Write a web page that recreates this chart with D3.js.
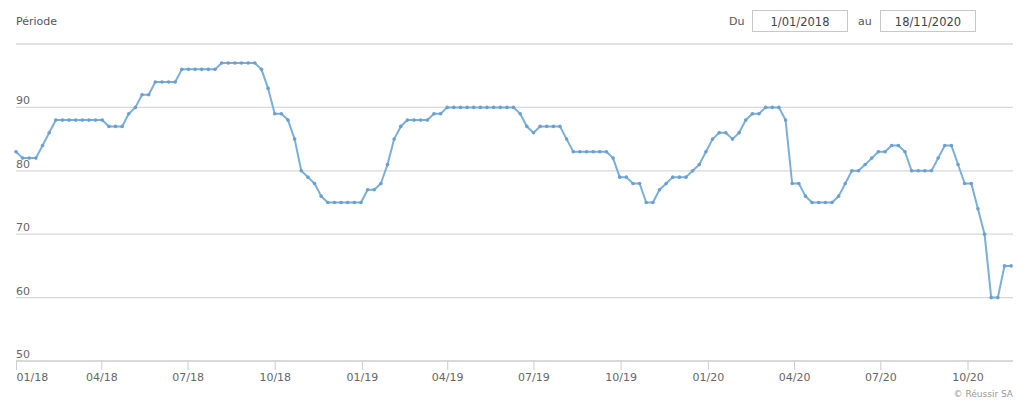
<!DOCTYPE html>
<html>
<head>
<meta charset="utf-8">
<script src="https://cdn.jsdelivr.net/npm/d3@7"></script>
<style>
  body { margin: 0; background: #fff; }
  svg { display: block; font-family: "DejaVu Sans", Verdana, sans-serif; }
</style>
</head>
<body>
<div class="d3-elem"></div>
<script>
// weekly prices, one per monday starting 01/01/2018
const startDate = "2018-01-01";
const endDate = "2020-11-18";
const prices = [
  83, 82, 82, 82, 84, 86, 88, 88, 88, 88, 88, 88, 88, 88, 87, 87, 87, 89, 90, 92,
  92, 94, 94, 94, 94, 96, 96, 96, 96, 96, 96, 97, 97, 97, 97, 97, 97, 96, 93, 89,
  89, 88, 85, 80, 79, 78, 76, 75, 75, 75, 75, 75, 75, 77, 77, 78, 81, 85, 87, 88,
  88, 88, 88, 89, 89, 90, 90, 90, 90, 90, 90, 90, 90, 90, 90, 90, 89, 87, 86, 87,
  87, 87, 87, 85, 83, 83, 83, 83, 83, 83, 82, 79, 79, 78, 78, 75, 75, 77, 78, 79,
  79, 79, 80, 81, 83, 85, 86, 86, 85, 86, 88, 89, 89, 90, 90, 90, 88, 78, 78, 76,
  75, 75, 75, 75, 76, 78, 80, 80, 81, 82, 83, 83, 84, 84, 83, 80, 80, 80, 80, 82,
  84, 84, 81, 78, 78, 74, 70, 60, 60, 65, 65
];
const yTicks = [50, 60, 70, 80, 90, 100];
const yLabels = ["50", "60", "70", "80", "90"];
const periodFrom = "1/01/2018";
const periodTo = "18/11/2020";

const w = 1024, h = 401;
const parse = d3.timeParse("%Y-%m-%d");
const t0 = parse(startDate);
const data = prices.map((v, i) => ({ date: d3.timeWeek.offset(t0, i), value: v }));

const x = d3.scaleTime()
  .domain([t0, parse(endDate)])
  .range([16, 1013]);
const y = d3.scaleLinear()
  .domain([50, 100])
  .range([361, 44]);

const svg = d3.select(".d3-elem").append("svg")
  .attr("width", w)
  .attr("height", h);

// header
svg.append("text").attr("x", 16).attr("y", 25)
  .attr("font-size", 11).attr("fill", "#555").text("Période");

const header = [
  { label: "Du", lx: 729, bx: 752, value: periodFrom },
  { label: "au", lx: 858, bx: 880, value: periodTo }
];
header.forEach(d => {
  svg.append("text").attr("x", d.lx).attr("y", 25)
    .attr("font-size", 11).attr("fill", "#555").text(d.label);
  svg.append("rect").attr("x", d.bx + 0.5).attr("y", 10.5)
    .attr("width", 95).attr("height", 21)
    .attr("fill", "#fff").attr("stroke", "#c8c8c8");
  svg.append("text").attr("x", d.bx + 48).attr("y", 25.5)
    .attr("text-anchor", "middle")
    .attr("font-size", 11.5).attr("fill", "#444").text(d.value);
});

// grid
svg.append("g").selectAll("line")
  .data(yTicks.slice(1))
  .enter().append("line")
  .attr("x1", 16).attr("x2", 1013)
  .attr("y1", d => y(d)).attr("y2", d => y(d))
  .attr("stroke", "#d8d8d8").attr("stroke-width", 1.3);

svg.append("g").selectAll("text")
  .data(yLabels)
  .enter().append("text")
  .attr("x", 16).attr("y", d => y(+d) - 3)
  .attr("font-size", 11).attr("fill", "#666")
  .text(d => d);

// x axis
const xAxis = d3.axisBottom(x)
  .ticks(d3.timeMonth.every(3))
  .tickFormat(d3.timeFormat("%m/%y"))
  .tickSize(9)
  .tickPadding(3);

const gx = svg.append("g")
  .attr("transform", "translate(0," + y(50) + ")")
  .call(xAxis);
gx.select(".domain").attr("stroke", "#ccc").attr("stroke-width", 1.3)
  .attr("d", "M16,0H1013");
gx.selectAll(".tick line").attr("stroke", "#ccc");
gx.selectAll(".tick text")
  .attr("font-family", "DejaVu Sans, Verdana, sans-serif")
  .attr("font-size", 11).attr("fill", "#666");
gx.selectAll(".tick text").filter((d, i) => i === 0).attr("text-anchor", "start");

// series
const line = d3.line()
  .x(d => x(d.date))
  .y(d => y(d.value));

svg.append("path")
  .datum(data)
  .attr("fill", "none")
  .attr("stroke", "#78afdc")
  .attr("stroke-width", 2)
  .attr("stroke-linejoin", "round")
  .attr("d", line);

svg.append("g").selectAll("circle")
  .data(data)
  .enter().append("circle")
  .attr("cx", d => x(d.date))
  .attr("cy", d => y(d.value))
  .attr("r", 1.8)
  .attr("fill", "#6a9fd0");

svg.append("text").attr("x", 1013).attr("y", 397)
  .attr("text-anchor", "end")
  .attr("font-size", 9).attr("fill", "#999").text("© Réussir SA");
</script>
</body>
</html>
